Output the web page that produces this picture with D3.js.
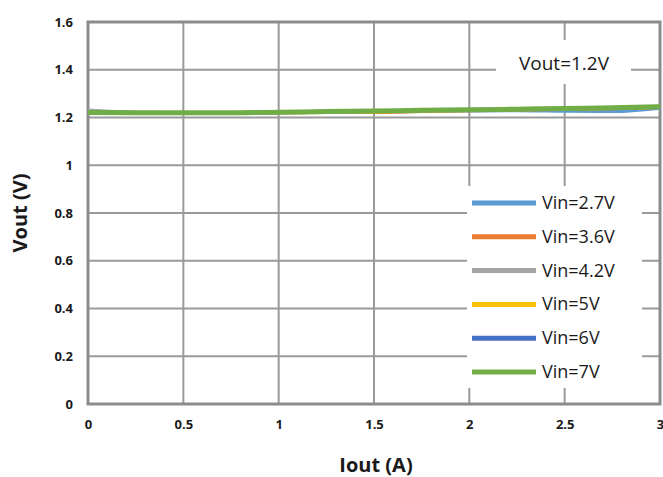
<!DOCTYPE html>
<html>
<head>
<meta charset="utf-8">
<script src="https://cdn.jsdelivr.net/npm/d3@7"></script>
<style>
  body { margin: 0; background: #fff; }
  svg text { font-family: "Open Sans", "DejaVu Sans", sans-serif; fill: #1a1a1a; }
</style>
</head>
<body>
<svg id="chart" width="663" height="477"></svg>
<script>
// ---- data ----
const iout = [0, 0.25, 0.5, 0.75, 1, 1.25, 1.5, 1.75, 2, 2.25, 2.5, 2.75, 3];
const vin27 = [1.228, 1.220, 1.219, 1.219, 1.221, 1.223, 1.225, 1.226, 1.228, 1.229, 1.227, 1.226, 1.240];
const vin36 = [1.221, 1.219, 1.219, 1.220, 1.221, 1.222, 1.222, 1.226, 1.229, 1.232, 1.235, 1.238, 1.243];
const vin42 = [1.230, 1.221, 1.220, 1.220, 1.222, 1.224, 1.227, 1.229, 1.231, 1.234, 1.237, 1.240, 1.244];
const vin5  = [1.221, 1.220, 1.219, 1.220, 1.221, 1.222, 1.224, 1.228, 1.230, 1.233, 1.236, 1.239, 1.243];
const vin6  = [1.221, 1.220, 1.220, 1.220, 1.222, 1.224, 1.226, 1.229, 1.231, 1.234, 1.237, 1.240, 1.244];
const vin7  = [1.221, 1.220, 1.220, 1.220, 1.222, 1.225, 1.227, 1.230, 1.232, 1.235, 1.238, 1.241, 1.245];
const seriesNames = ["Vin=2.7V", "Vin=3.6V", "Vin=4.2V", "Vin=5V", "Vin=6V", "Vin=7V"];
const seriesValues = [vin27, vin36, vin42, vin5, vin6, vin7];
const seriesColors = ["#5b9bd5", "#ed7d31", "#a5a5a5", "#ffc000", "#4472c4", "#70ad47"];
const xTicks = [0, 0.5, 1, 1.5, 2, 2.5, 3];
const yTicks = [0, 0.2, 0.4, 0.6, 0.8, 1, 1.2, 1.4, 1.6];

// ---- layout ----
const svg = d3.select('#chart');
const m = { left: 88, right: 660, top: 22, bottom: 404 };

const x = d3.scaleLinear().domain([0, 3]).range([m.left, m.right]);
const y = d3.scaleLinear().domain([0, 1.6]).range([m.bottom, m.top]);

// gridlines
svg.append('g')
  .selectAll('line')
  .data(yTicks)
  .join('line')
  .attr('x1', m.left).attr('x2', m.right)
  .attr('y1', d => y(d)).attr('y2', d => y(d))
  .attr('stroke', '#9a9a9a').attr('stroke-width', 2);

svg.append('g')
  .selectAll('line')
  .data(xTicks)
  .join('line')
  .attr('x1', d => x(d)).attr('x2', d => x(d))
  .attr('y1', m.top).attr('y2', m.bottom)
  .attr('stroke', '#9a9a9a').attr('stroke-width', 2);

// plot border
svg.append('rect')
  .attr('x', m.left).attr('y', m.top)
  .attr('width', m.right - m.left).attr('height', m.bottom - m.top)
  .attr('fill', 'none').attr('stroke', '#8c8c8c').attr('stroke-width', 3);

// axes (labels only)
const xAxis = svg.append('g')
  .attr('transform', `translate(0,${m.bottom})`)
  .call(d3.axisBottom(x).tickValues(xTicks).tickSize(0).tickPadding(16).tickFormat(d3.format('')));
const yAxis = svg.append('g')
  .attr('transform', `translate(${m.left},0)`)
  .call(d3.axisLeft(y).tickValues(yTicks).tickSize(0).tickPadding(15).tickFormat(d3.format('')));
[xAxis, yAxis].forEach(a => {
  a.select('.domain').remove();
  a.selectAll('text')
    .style('font-family', '"Open Sans", sans-serif')
    .style('font-size', '13px').style('font-weight', 'bold').attr('fill', '#1a1a1a');
});

// axis titles
svg.append('text')
  .attr('x', 376).attr('y', 472)
  .attr('text-anchor', 'middle')
  .style('font-size', '20px').style('font-weight', 'bold')
  .text('Iout (A)');
svg.append('text')
  .attr('transform', 'translate(27,213) rotate(-90)')
  .attr('text-anchor', 'middle')
  .style('font-size', '20px').style('font-weight', 'bold')
  .text('Vout (V)');

// white box + annotation
svg.append('rect')
  .attr('x', 496).attr('y', 40).attr('width', 135).attr('height', 44)
  .attr('fill', '#fff');
svg.append('text')
  .attr('x', 564).attr('y', 70)
  .attr('text-anchor', 'middle')
  .style('font-size', '19px')
  .text('Vout=1.2V');

// series lines
const line = d3.line()
  .x((d, i) => x(iout[i]))
  .y(d => y(d))
  .curve(d3.curveMonotoneX);

svg.append('g')
  .selectAll('path')
  .data(seriesValues)
  .join('path')
  .attr('d', line)
  .attr('fill', 'none')
  .attr('stroke', (d, i) => seriesColors[i])
  .attr('stroke-width', (d, i) => i === 5 ? 5 : 3.5);

// legend
svg.append('rect')
  .attr('x', 467).attr('y', 186).attr('width', 175).attr('height', 202)
  .attr('fill', '#fff');

const legend = svg.append('g')
  .selectAll('g')
  .data(seriesNames)
  .join('g')
  .attr('transform', (d, i) => `translate(472,${203 + i * 33.8})`);

legend.append('line')
  .attr('x1', 0).attr('x2', 64)
  .attr('stroke', (d, i) => seriesColors[i])
  .attr('stroke-width', 5);

legend.append('text')
  .attr('x', 70).attr('y', 6)
  .style('font-size', '18px')
  .text(d => d);
</script>
</body>
</html>
